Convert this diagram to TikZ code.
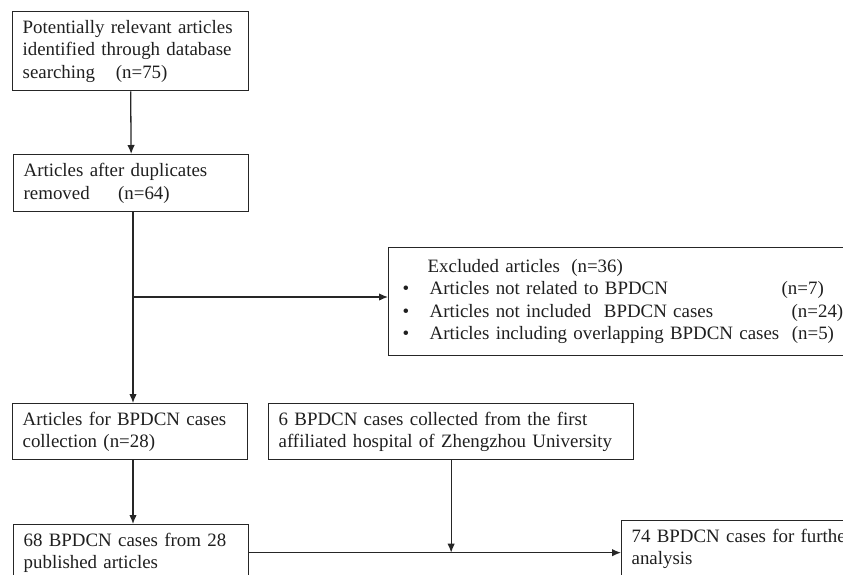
\documentclass[tikz,border=0pt]{standalone}
\usepackage{fontspec}
\setmainfont{Liberation Serif}
\usetikzlibrary{arrows.meta,calc}
\begin{document}
\begin{tikzpicture}[x=1pt,y=-1pt,
  every node/.style={font=\fontsize{18.9}{22.5}\selectfont, text=black!88},
  box/.style={draw=black!85, line width=1.3pt, rectangle, anchor=north west, align=left,
    inner xsep=10pt, inner ysep=0pt},
  conn/.style={draw=black!85, line width=1.3pt},
  arr/.style={conn, -{Latex[length=9pt,width=7.5pt]}}]
\useasboundingbox (0,0) rectangle (843,574);
\clip (0,0) rectangle (843,574);
\node[box, minimum width=236pt, minimum height=79pt, text width=216pt] (b1) at (12,11)
  {\mbox{Potentially relevant articles}\\\mbox{identified through database}\\\mbox{searching\hspace{1.1em}(n=75)}};
\node[box, minimum width=235pt, minimum height=57pt, text width=215pt] (b2) at (13,154)
  {\mbox{Articles after duplicates}\\\mbox{removed\hspace{1.5em}(n=64)}};
\node[box, minimum width=475pt, minimum height=108pt, inner xsep=14pt, text width=447pt] (b4) at (388,247)
  {\mbox{\hspace*{25pt}Excluded articles\hspace{0.6em}(n=36)}\\
   \mbox{\makebox[27pt][l]{•}\makebox[352pt][l]{Articles not related to BPDCN}(n=7)}\\
   \mbox{\makebox[27pt][l]{•}\makebox[362pt][l]{Articles not included\ \ BPDCN cases}(n=24)}\\
   \mbox{\makebox[27pt][l]{•}Articles including overlapping BPDCN cases\ \ (n=5)}};
\node[box, minimum width=235pt, minimum height=56pt, text width=215pt] (b5) at (12,403)
  {\mbox{Articles for BPDCN cases}\\\mbox{collection (n=28)}};
\node[box, minimum width=365pt, minimum height=56pt, text width=345pt] (b3) at (268,403)
  {\mbox{6 BPDCN cases collected from the first}\\\mbox{affiliated hospital of Zhengzhou University}};
\node[box, minimum width=235pt, minimum height=56pt, text width=215pt] (b6) at (13,524)
  {\mbox{68 BPDCN cases from 28}\\\mbox{published articles}};
\node[box, minimum width=260pt, minimum height=56pt, text width=240pt] (b7) at (621,520)
  {\mbox{74 BPDCN cases for further}\\\mbox{analysis}};
\coordinate (j1) at (133,297);
\draw[arr] (b1.south) -- (b2.north);
\draw[conn] (b2.south -| j1) -- (j1);
\draw[arr] (j1) -- (b5.north -| j1);
\draw[arr] (j1) -- (b4.west |- j1);
\draw[arr] (b5.south -| j1) -- (b6.north -| j1);
\draw[arr] (b6.east) -- (b6.east -| b7.west);
\draw[arr] (b3.south) -- (b3.south |- b6.east);
\end{tikzpicture}
\end{document}
